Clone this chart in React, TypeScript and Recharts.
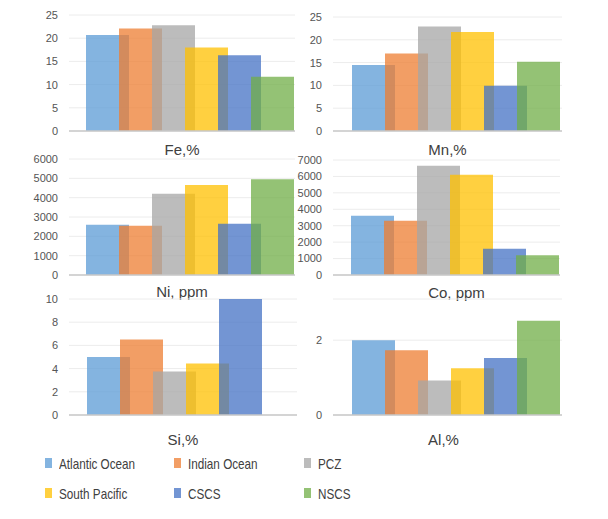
import { BarChart, Bar, XAxis, YAxis, CartesianGrid } from 'recharts'

const regions = ['Atlantic Ocean', 'Indian Ocean', 'PCZ', 'South Pacific', 'CSCS', 'NSCS']
const colors = ['#5B9BD5', '#ED7D31', '#A5A5A5', '#FFC000', '#4472C4', '#70AD47']

const feValues = [20.7, 22.1, 22.8, 18.0, 16.3, 11.7]
const mnValues = [14.5, 17.0, 22.9, 21.7, 9.9, 15.2]
const niValues = [2600, 2550, 4200, 4650, 2650, 4950]
const coValues = [3600, 3300, 6650, 6100, 1600, 1200]
const siValues = [5.0, 6.5, 3.75, 4.45, 10.0, null]
const alValues = [2.0, 1.73, 0.92, 1.25, 1.52, 2.52]

const feTicks = [0, 5, 10, 15, 20, 25]
const mnTicks = [0, 5, 10, 15, 20, 25]
const niTicks = [0, 1000, 2000, 3000, 4000, 5000, 6000]
const coTicks = [0, 1000, 2000, 3000, 4000, 5000, 6000, 7000]
const siTicks = [0, 2, 4, 6, 8, 10]
const alTicks = [0, 2]

const FONT = '"Liberation Sans", Arial, sans-serif'

type PanelProps = {
  title: string
  values: (number | null)[]
  ticks: number[]
  domainMax: number
  left: number
  top: number
  width: number
  height: number
  margin: { top: number; right: number; left: number; bottom: number }
  yWidth: number
  xHeight: number
  labelOffset: number
  labelDx?: number
}

function Panel(p: PanelProps) {
  const row: Record<string, string | number | null> = { name: p.title }
  regions.forEach((r, i) => {
    row[r] = p.values[i]
  })
  return (
    <div style={{ position: 'absolute', left: p.left, top: p.top }}>
      <BarChart
        width={p.width}
        height={p.height}
        data={[row]}
        margin={p.margin}
        barGap={-10}
        barCategoryGap={0}
      >
        <CartesianGrid vertical={false} stroke="#ececec" strokeWidth={1} />
        <XAxis
          dataKey="name"
          tick={false}
          tickLine={false}
          height={p.xHeight}
          axisLine={{ stroke: '#c8c8c8', strokeWidth: 1.5 }}
          padding={{ left: 16, right: 0 }}
          label={{
            value: p.title,
            position: 'insideBottom',
            offset: p.labelOffset,
            dx: p.labelDx ?? 0,
            style: { fontFamily: FONT, fontSize: 15, fill: '#404040' },
          }}
        />
        <YAxis
          width={p.yWidth}
          domain={[0, p.domainMax]}
          ticks={p.ticks}
          interval={0}
          axisLine={false}
          tickLine={false}
          tickSize={0}
          tickMargin={11}
          tick={{ fontFamily: FONT, fontSize: 11, fill: '#555555' }}
        />
        {regions.map((r, i) => (
          <Bar
            key={r}
            dataKey={r}
            fill={colors[i]}
            fillOpacity={0.75}
            barSize={43}
            isAnimationActive={false}
          />
        ))}
      </BarChart>
    </div>
  )
}

function Legend() {
  const cols = [45, 174, 304]
  const rows = [463, 493]
  return (
    <>
      {regions.map((r, i) => (
        <div
          key={r}
          style={{
            position: 'absolute',
            left: cols[i % 3],
            top: rows[Math.floor(i / 3)] - 9,
            height: 18,
            display: 'flex',
            alignItems: 'center',
            whiteSpace: 'nowrap',
          }}
        >
          <span
            style={{
              display: 'inline-block',
              width: 7,
              height: 10,
              background: colors[i],
              opacity: 0.75,
              marginRight: 7,
            }}
          />
          <span
            style={{
              display: 'inline-block',
              fontFamily: FONT,
              fontSize: 15,
              color: '#404040',
              transform: 'scaleX(0.78)',
              transformOrigin: 'left center',
            }}
          >
            {r}
          </span>
        </div>
      ))}
    </>
  )
}

export default function App() {
  return (
    <div style={{ position: 'absolute', left: 0, top: 0, width: 608, height: 519, background: '#fff' }}>
      <Panel
        title="Fe,%"
        values={feValues}
        ticks={feTicks}
        domainMax={25}
        left={0}
        top={0}
        width={304}
        height={160}
        margin={{ top: 15, right: 9, left: 0, bottom: 3 }}
        yWidth={69}
        xHeight={26}
        labelOffset={2}
      />
      <Panel
        title="Mn,%"
        values={mnValues}
        ticks={mnTicks}
        domainMax={25}
        left={290}
        top={0}
        width={318}
        height={160}
        margin={{ top: 17, right: 46, left: 0, bottom: 3 }}
        yWidth={43}
        xHeight={26}
        labelOffset={2}
      />
      <Panel
        title="Ni, ppm"
        values={niValues}
        ticks={niTicks}
        domainMax={6000}
        left={0}
        top={145}
        width={304}
        height={160}
        margin={{ top: 14, right: 9, left: 0, bottom: 0 }}
        yWidth={69}
        xHeight={30}
        labelOffset={8}
      />
      <Panel
        title="Co, ppm"
        values={coValues}
        ticks={coTicks}
        domainMax={7000}
        left={290}
        top={145}
        width={318}
        height={160}
        margin={{ top: 15, right: 48, left: 0, bottom: 0 }}
        yWidth={43}
        xHeight={30}
        labelOffset={7}
        labelDx={10}
      />
      <Panel
        title="Si,%"
        values={siValues}
        ticks={siTicks}
        domainMax={10}
        left={0}
        top={285}
        width={304}
        height={165}
        margin={{ top: 14, right: 7, left: 0, bottom: 0 }}
        yWidth={69}
        xHeight={35}
        labelOffset={5}
      />
      <Panel
        title="Al,%"
        values={alValues}
        ticks={alTicks}
        domainMax={3.1}
        left={290}
        top={285}
        width={318}
        height={165}
        margin={{ top: 14, right: 46, left: 0, bottom: 0 }}
        yWidth={43}
        xHeight={35}
        labelOffset={5}
        labelDx={-4}
      />
      <Legend />
    </div>
  )
}
